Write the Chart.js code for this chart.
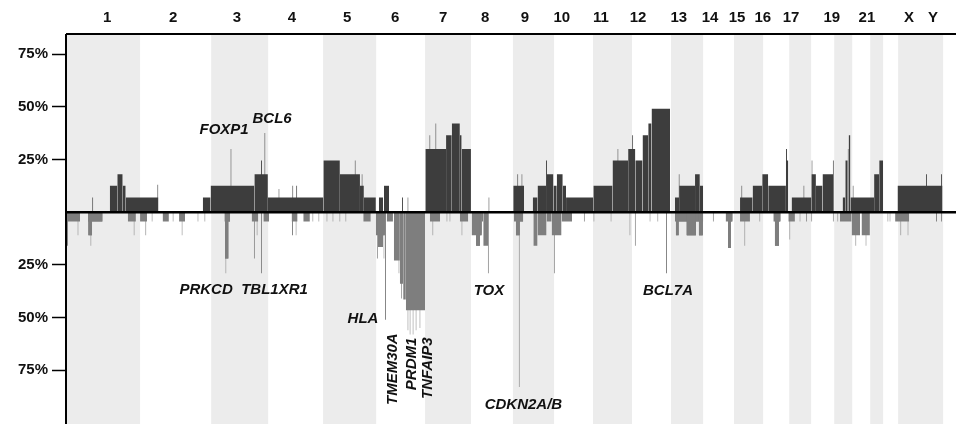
<!DOCTYPE html>
<html>
<head>
<meta charset="utf-8">
<script src="https://cdn.jsdelivr.net/npm/chart.js@4"></script>
<style>
  body { margin: 0; background: #fff; }
  canvas { display: block; }
</style>
</head>
<body>
<canvas id="cnv" width="956" height="424"></canvas>
<script>
// genome layout (Mb, approximate as drawn)
const chromLengths = [247, 237, 190, 183, 177, 163, 153, 140, 137, 130, 130, 130, 107, 103, 97, 87, 73, 77, 60, 60, 43, 50, 150, 43];
const chromLabels = ["1", "2", "3", "4", "5", "6", "7", "8", "9", "10", "11", "12", "13", "14", "15", "16", "17", "19", "21", "X", "Y"];
const chromLabelPos = [137, 357, 570, 753, 937, 1097, 1257, 1397, 1530, 1653, 1783, 1907, 2043, 2147, 2237, 2323, 2417, 2553, 2670, 2810, 2890];
const yTicks = [-75, -50, -25, 25, 50, 75];

// gains: [start, end, %]
const gainBlocks = [
  [146, 171, 12.5], [171, 189, 18], [189, 199, 12.5], [199, 308, 7],
  [456, 482, 7], [482, 628, 12.5], [628, 673, 18], [673, 858, 7],
  [858, 913, 24.5], [913, 980, 18], [980, 993, 12.5], [993, 1033, 7],
  [1043, 1057, 7], [1060, 1077, 12.5],
  [1198, 1267, 30], [1267, 1286, 36.5], [1286, 1313, 42], [1313, 1319, 36.5], [1319, 1350, 30],
  [1491, 1527, 12.5],
  [1556, 1572, 7], [1572, 1602, 12.5], [1602, 1625, 18],
  [1625, 1636, 12.5], [1636, 1656, 18], [1656, 1667, 12.5], [1667, 1758, 7],
  [1758, 1822, 12.5], [1822, 1874, 24.5], [1874, 1898, 30],
  [1898, 1922, 24.5], [1922, 1941, 36.5], [1941, 1952, 42], [1952, 2014, 49],
  [2030, 2044, 7], [2044, 2097, 12.5], [2097, 2113, 18], [2113, 2124, 12.5],
  [2247, 2289, 7], [2289, 2321, 12.5], [2321, 2341, 18], [2341, 2400, 12.5], [2400, 2408, 24.5],
  [2419, 2485, 7], [2485, 2500, 18], [2500, 2522, 12.5], [2522, 2558, 18],
  [2589, 2598, 7], [2598, 2606, 24.5], [2606, 2609, 30], [2609, 2615, 36.5],
  [2615, 2694, 7], [2694, 2711, 18], [2711, 2724, 24.5],
  [2772, 2922, 12.5]
];
// gains: single-probe peaks [position, %]
const gainSpikes = [
  [89, 7], [306, 13], [550, 30], [652, 24.5], [663, 37.5], [710, 11], [756, 12.5], [769, 12.5],
  [964, 24.5], [987, 18], [1122, 7], [1140, 7], [1213, 36.5], [1233, 42], [1410, 7],
  [1506, 18], [1520, 18], [1602, 24.5], [1840, 30], [1889, 36.5], [2044, 18], [2253, 12.5],
  [2402, 30], [2460, 12.5], [2487, 24.5], [2558, 24.5], [2624, 12.5], [2869, 18], [2919, 18]
];
// losses: [start, end, %]
const lossBlocks = [
  [3, 47, 4.5], [74, 122, 4.5], [74, 87, 11], [206, 233, 4.5],
  [247, 270, 4.5], [322, 343, 4.5], [377, 397, 4.5],
  [528, 547, 4.5], [530, 542, 22], [619, 641, 4.5], [658, 677, 4.5],
  [752, 772, 4.5], [791, 813, 4.5], [991, 1016, 4.5],
  [1033, 1063, 11], [1040, 1057, 16.5], [1069, 1090, 4.5],
  [1093, 1113, 23], [1113, 1124, 34], [1124, 1133, 41.5], [1133, 1197, 46.5],
  [1213, 1247, 4.5], [1313, 1341, 4.5],
  [1352, 1386, 11], [1367, 1380, 16], [1386, 1391, 4.5], [1391, 1408, 16],
  [1493, 1524, 4.5], [1500, 1513, 11],
  [1558, 1572, 16], [1572, 1602, 11], [1602, 1619, 4.5], [1619, 1652, 11], [1652, 1687, 4.5],
  [2030, 2124, 4.5], [2033, 2043, 11], [2069, 2100, 11], [2110, 2123, 11],
  [2199, 2222, 4.5], [2207, 2217, 17],
  [2247, 2280, 4.5], [2358, 2382, 4.5], [2363, 2377, 16], [2408, 2430, 4.5],
  [2580, 2619, 4.5], [2619, 2647, 11], [2652, 2680, 11],
  [2764, 2811, 4.5]
];
const lossSpikes = [
  [5, 16], [40, 11], [83, 16], [227, 11], [266, 11], [287, 4.5], [357, 4.5], [387, 11], [440, 4.5], [463, 4.5],
  [533, 29], [628, 22], [637, 11], [652, 29],
  [755, 11], [767, 11], [823, 4.5], [843, 4.5], [870, 4.5], [890, 4.5], [913, 4.5], [933, 4.5],
  [1038, 22], [1060, 22], [1065, 51], [1110, 29], [1119, 41], [1140, 56], [1147, 58], [1157, 58], [1167, 56], [1180, 55],
  [1223, 11], [1270, 4.5], [1280, 4.5], [1320, 11], [1408, 29],
  [1511, 83], [1628, 29], [1728, 4.5],
  [1760, 4.5], [1817, 4.5], [1880, 11], [1898, 16], [1947, 4.5], [1973, 4.5], [2002, 29],
  [2158, 4.5], [2263, 16], [2313, 4.5], [2413, 13], [2447, 4.5], [2469, 4.5], [2486, 4.5],
  [2558, 4.5], [2573, 4.5], [2633, 16], [2667, 16], [2740, 4.5], [2747, 4.5], [2783, 11], [2807, 11], [2902, 4.5], [2919, 4.5]
];

// gene annotations
const geneNames = ["FOXP1", "BCL6", "PRKCD", "TBL1XR1", "HLA", "TMEM30A", "PRDM1", "TNFAIP3", "TOX", "CDKN2A/B", "BCL7A"];
const genePos = [527, 687, 467, 695, 990, 1090, 1153, 1207, 1410, 1525, 2007];
const geneLevel = [38.9, 44.1, -37, -37, -50.8, -74.5, -72, -74, -37.3, -91.6, -37.3];
const geneVertical = [false, false, false, false, false, true, true, true, false, false, false];

function toPoints(segs, sign) {
  const pts = [];
  segs.forEach(([s, e, v]) => {
    pts.push({ x: s, y: 0 }, { x: s, y: sign * v }, { x: e, y: sign * v }, { x: e, y: 0 }, { x: e, y: null });
  });
  return pts;
}
const spikeSegs = (list) => list.map(([p, v]) => [p - 1.7, p + 1.7, v]);

function area(points, color) {
  return {
    data: points,
    backgroundColor: color,
    borderColor: "rgba(0,0,0,0)",
    borderWidth: 1,
    fill: "origin",
    pointRadius: 0,
    tension: 0,
    spanGaps: false
  };
}

const totalLen = chromLengths.reduce((a, b) => a + b, 0);
const FONT = '"Liberation Sans", Arial, sans-serif';

const decor = {
  id: "decor",
  beforeDatasetsDraw(chart) {
    const { ctx, chartArea: a, scales: { x } } = chart;
    ctx.save();
    ctx.fillStyle = "#ececec";
    let start = 0;
    chromLengths.forEach((len, i) => {
      if (i % 2 === 0) {
        const x0 = x.getPixelForValue(start);
        const x1 = x.getPixelForValue(start + len);
        ctx.fillRect(x0, a.top, x1 - x0, a.bottom - a.top);
      }
      start += len;
    });
    ctx.restore();
  },
  afterDatasetsDraw(chart) {
    const { ctx, chartArea: a, scales: { x, y } } = chart;
    ctx.save();
    ctx.strokeStyle = "#000";
    ctx.lineWidth = 2.5;
    const y0 = y.getPixelForValue(0);
    ctx.beginPath(); ctx.moveTo(a.left, y0); ctx.lineTo(a.right, y0); ctx.stroke();
    ctx.lineWidth = 2;
    ctx.beginPath(); ctx.moveTo(a.left, a.top); ctx.lineTo(a.right, a.top); ctx.stroke();
    ctx.beginPath(); ctx.moveTo(a.left, a.top); ctx.lineTo(a.left, a.bottom); ctx.stroke();

    ctx.fillStyle = "#111";
    ctx.textAlign = "center";
    ctx.textBaseline = "middle";
    ctx.font = "bold 15px " + FONT;
    chromLabels.forEach((lab, i) => {
      ctx.fillText(lab, x.getPixelForValue(chromLabelPos[i]), 18);
    });

    ctx.font = "italic bold 15px " + FONT;
    geneNames.forEach((g, i) => {
      const px = x.getPixelForValue(genePos[i]);
      const py = y.getPixelForValue(geneLevel[i]);
      if (geneVertical[i]) {
        ctx.save();
        ctx.translate(px, py);
        ctx.rotate(-Math.PI / 2);
        ctx.fillText(g, 0, 0);
        ctx.restore();
      } else {
        ctx.fillText(g, px, py);
      }
    });
    ctx.restore();
  }
};

new Chart(document.getElementById("cnv"), {
  type: "line",
  data: {
    datasets: [
      area(toPoints(gainBlocks, 1), "#3d3d3d"),
      area(toPoints(lossBlocks, -1), "#7e7e7e"),
      area(toPoints(spikeSegs(gainSpikes), 1), "#484848"),
      area(toPoints(spikeSegs(lossSpikes), -1), "#858585")
    ]
  },
  options: {
    responsive: false,
    animation: false,
    layout: { padding: { top: 34, left: 0, right: 0, bottom: 0 } },
    plugins: { legend: { display: false }, tooltip: { enabled: false } },
    scales: {
      x: { type: "linear", min: 0, max: totalLen, display: false },
      y: {
        min: -100.5,
        max: 84.5,
        afterBuildTicks: (scale) => { scale.ticks = yTicks.map((v) => ({ value: v })); },
        afterFit: (scale) => {
          scale.width = 66;
          scale.paddingTop = 0;
          scale.paddingBottom = 0;
        },
        border: { display: false },
        grid: { drawOnChartArea: false, drawTicks: true, tickLength: 14, tickColor: "#000", tickWidth: 1.5 },
        ticks: {
          padding: 4,
          color: "#111",
          font: { family: FONT, size: 15, weight: "bold" },
          callback: (v) => Math.abs(v) + "%"
        }
      }
    }
  },
  plugins: [decor]
});
</script>
</body>
</html>
